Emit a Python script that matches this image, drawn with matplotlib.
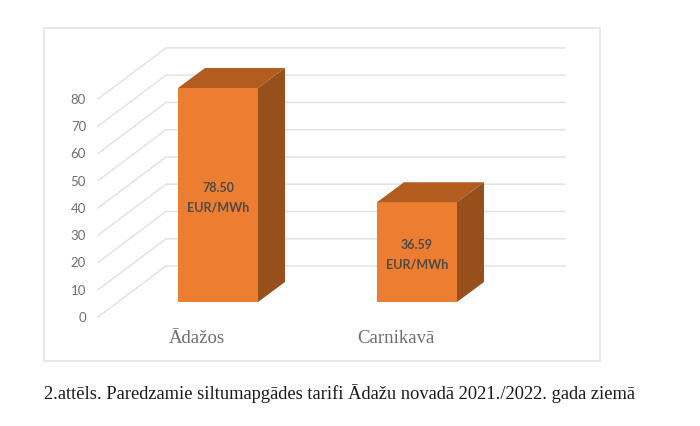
import numpy as np
import matplotlib
matplotlib.use("Agg")
import matplotlib.pyplot as plt
from matplotlib.patches import Polygon, Rectangle

categories = ["Ādažos", "Carnikavā"]
values = [78.50, 36.59]
bar_labels = ["78.50\nEUR/MWh", "36.59\nEUR/MWh"]
y_ticks = [0, 10, 20, 30, 40, 50, 60, 70, 80]
caption = "2.attēls. Paredzamie siltumapgādes tarifi Ādažu novadā 2021./2022. gada ziemā"

W, H = 700, 427
PX_Y = 2.726    # pixels per value unit
PX_X = 199.0    # pixels between the two bars
X0 = 218.0      # pixel centre of first bar
Y0 = 302.0      # pixel of value 0 on bar front

FRONT = "#ED7D31"
TOP = "#B25C20"
SIDE = "#97501B"
GRID = "#E3E3E3"
TEXT = "#6E6E6E"
LABEL = "#4F4A46"


def xpx(p):
    return (p - X0) / PX_X


def ypx(p):
    return (Y0 - p) / PX_Y


fig = plt.figure(figsize=(W / 100, H / 100), dpi=100, facecolor="white")
ax = fig.add_axes([0, 0, 1, 1])
ax.set_xlim(xpx(0), xpx(W))
# one pixel lower than plain 0..H, lines up with the reference
ax.set_ylim(ypx(H - 1), ypx(-1))
ax.axis("off")

# chart frame
ax.add_patch(Rectangle((xpx(44), ypx(361)), 556 / PX_X, 333 / PX_Y,
                       fc="white", ec="#E2E2E2", lw=1.1))

# walls of the 3d box: left wall runs from axis out to the back wall
wall_dy = 15 / PX_Y   # axis sits this far below the bar base
back_dy = 36 / PX_Y   # back wall sits this far above the bar base
for t in y_ticks:
    ax.plot([xpx(98), xpx(166), xpx(565)],
            [t - wall_dy, t + back_dy, t + back_dy],
            color=GRID, lw=1.1, zorder=1, solid_joinstyle="miter")
    ax.text(xpx(86), t - wall_dy, str(t), ha="right", va="center",
            family="Lato", fontsize=9.5, color=TEXT)

# bars
width = 80 / PX_X
dx = 27 / PX_X
dy = 20 / PX_Y
cat_px = [197, 396]
for i, (val, cat, lab) in enumerate(zip(values, categories, bar_labels)):
    left = i - width / 2
    right = i + width / 2
    ax.add_patch(Rectangle((left, 0), width, val, fc=FRONT, ec="none", zorder=3))
    ax.add_patch(Polygon([(left, val), (right, val), (right + dx, val + dy), (left + dx, val + dy)],
                         fc=TOP, ec="none", zorder=3))
    ax.add_patch(Polygon([(right, 0), (right + dx, dy), (right + dx, val + dy), (right, val)],
                         fc=SIDE, ec="none", zorder=3))
    ax.text(i, val / 2 - 0.5, lab, ha="center", va="center",
            family="Lato", fontweight="bold", fontsize=9, color=LABEL,
            linespacing=1.75, zorder=4)
    ax.text(xpx(cat_px[i]), ypx(338), cat, ha="center", va="center",
            family="Liberation Serif", fontsize=13.5, color=TEXT)

ax.text(xpx(44), ypx(393), caption, ha="left", va="center",
        family="Liberation Serif", fontsize=13.3, color="#1A1A1A")

fig.savefig("out.png", dpi=100, facecolor="white")
